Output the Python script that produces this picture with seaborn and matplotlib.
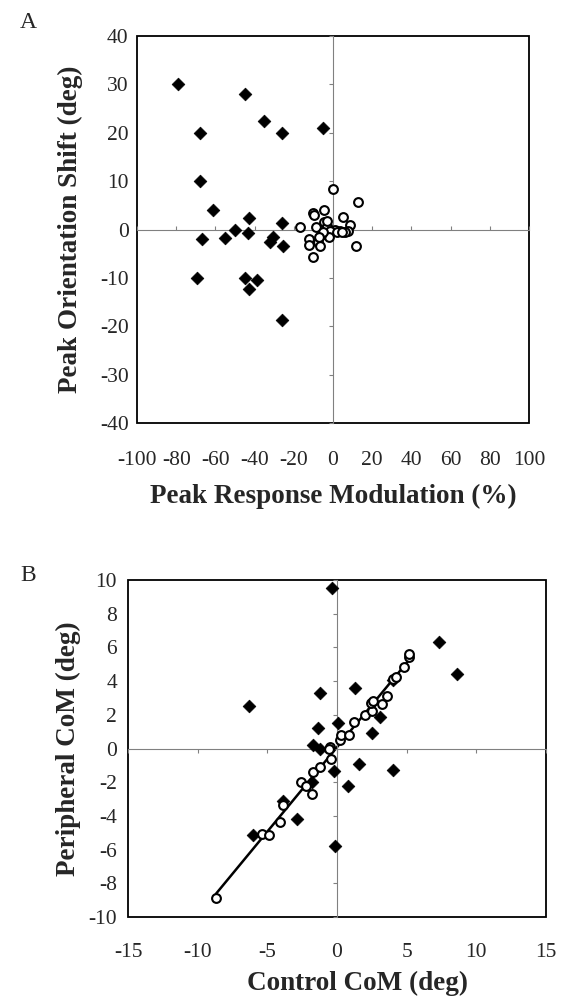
# Two-panel scatter: peak shift vs modulation (A) and peripheral vs control CoM (B)
import matplotlib
matplotlib.use('Agg')
import matplotlib.pyplot as plt
import seaborn as sns
import numpy as np

# Panel A data (filled diamonds / open circles)
a_diam_x = [-79, -45, -68, -35, -26, -5, -68, -61, -43, -26, -67, -55, -50, -43.5,
            -30.5, -32, -25.5, -69.5, -45, -39, -42.7, -26]
a_diam_y = [30, 28, 20, 22.5, 20, 21, 10, 4, 2.4, 1.4, -2, -1.7, 0, -0.8,
            -1.6, -2.6, -3.5, -10, -10, -10.5, -12.2, -18.6]
a_circ_x = [0, 13, -17, -10, -9.5, -4.5, -8.5, -4.5, -3, 5, 8.5, 7.5, 6, 3.5, 1,
            -1.5, -2, -6, -12.5, -12, -7.5, -6.5, -10, 11.5, -5, -7, -3, 2, 4.5]
a_circ_y = [8.3, 5.8, 0.5, 3.5, 3, 4, 0.5, 1.5, 0.8, 2.5, 1, -0.3, -0.6, -0.4, 0,
            -0.2, -1.6, -1.2, -2, -3.2, -2.5, -3.3, -5.7, -3.5, -0.6, -1.6, 1.8, -0.5, -0.5]

# Panel B data
b_diam_x = [-0.36, 7.3, 8.6, 4.0, 1.3, -1.2, -6.3, 3.1, 0.1, -1.4, 2.5, -1.75, -1.2,
            1.55, 4.0, -0.22, -1.8, 0.8, -3.9, -2.9, -6.0, -0.17]
b_diam_y = [9.5, 6.3, 4.4, 4.05, 3.6, 3.3, 2.5, 1.9, 1.5, 1.2, 0.9, 0.2, -0.05,
            -0.9, -1.3, -1.35, -2.0, -2.2, -3.1, -4.2, -5.15, -5.8]
b_circ_x = [-8.7, -5.4, -4.85, -4.1, -3.9, -2.55, -2.2, -1.8, -1.7, -1.2, -0.4, -0.5,
            -0.6, 0.2, 0.3, 0.85, 1.25, 2.0, 2.5, 2.45, 2.6, 3.2, 3.6, 4.0, 4.2,
            4.8, 5.2, 5.2]
b_circ_y = [-8.9, -5.05, -5.15, -4.35, -3.35, -2.0, -2.2, -2.7, -1.4, -1.1, -0.6, 0.1,
            0.0, 0.5, 0.8, 0.8, 1.6, 2.0, 2.2, 2.7, 2.85, 2.65, 3.1, 4.1, 4.25,
            4.85, 5.45, 5.6]

# Axis ticks
a_xticks = [-100, -80, -60, -40, -20, 0, 20, 40, 60, 80, 100]
a_yticks = [-40, -30, -20, -10, 0, 10, 20, 30, 40]
b_xticks = [-15, -10, -5, 0, 5, 10, 15]
b_yticks = [-10, -8, -6, -4, -2, 0, 2, 4, 6, 8, 10]

sns.set_style('white')
plt.rcParams['font.family'] = ['Liberation Serif', 'DejaVu Serif']
plt.rcParams['axes.unicode_minus'] = False

TICK_FS = 15.5
LABEL_FS = 19.5
GRAY = '#808080'
DIAM_S = 42
CIRC_S = 40

fig = plt.figure(figsize=(5.61, 10.02), dpi=100)
axA = fig.add_axes([0.2442, 0.5778, 0.6988, 0.3862])
axB = fig.add_axes([0.2282, 0.0848, 0.7451, 0.3363])


def style_axes(ax, xticks, yticks, xlabel, ylabel, xdir, xpad, ypad, xlp, ylp):
    ax.set_xlim(xticks[0], xticks[-1])
    ax.set_ylim(yticks[0], yticks[-1])
    # frame drawn by the background patch, spines act as zero axes
    ax.patch.set_edgecolor('black')
    ax.patch.set_linewidth(1.3)
    for s in ['top', 'right']:
        ax.spines[s].set_visible(False)
    for s in ['left', 'bottom']:
        ax.spines[s].set_position(('data', 0))
        ax.spines[s].set_color(GRAY)
        ax.spines[s].set_linewidth(0.8)
    ax.set_xticks(xticks)
    ax.set_yticks(yticks)
    ax.tick_params(axis='x', direction=xdir, length=3, width=0.8, color=GRAY,
                   labelbottom=False, bottom=True)
    ax.tick_params(axis='y', direction='out', length=3, width=0.8, color=GRAY,
                   labelleft=False, left=True)

    # tick labels on the frame edges
    sx = ax.secondary_xaxis('bottom')
    sx.set_xticks(xticks)
    sx.set_xticklabels([str(t) for t in xticks])
    sx.tick_params(length=0, pad=xpad, labelsize=TICK_FS)
    sx.spines['bottom'].set_visible(False)
    sx.set_xlabel(xlabel, fontsize=LABEL_FS, fontweight='bold', labelpad=xlp)

    sy = ax.secondary_yaxis('left')
    sy.set_yticks(yticks)
    sy.set_yticklabels([str(t) for t in yticks])
    sy.tick_params(length=0, pad=ypad, labelsize=TICK_FS)
    sy.spines['left'].set_visible(False)
    sy.set_ylabel(ylabel, fontsize=LABEL_FS, fontweight='bold', labelpad=ylp)
    return sx, sy


# Panel A
sns.scatterplot(x=a_diam_x, y=a_diam_y, marker='D', s=DIAM_S, color='black',
                edgecolor='black', linewidth=0.5, ax=axA, zorder=3)
sns.scatterplot(x=a_circ_x, y=a_circ_y, marker='o', s=CIRC_S, color='white',
                edgecolor='black', linewidth=1.5, ax=axA, zorder=4)
style_axes(axA, a_xticks, a_yticks, 'Peak Response Modulation (%)',
           'Peak Orientation Shift (deg)', 'in', 20, 6, 10, 12)

# Panel B
sns.regplot(x=np.array(b_circ_x), y=np.array(b_circ_y), scatter=False, ci=None,
            truncate=True, color='black', line_kws={'lw': 1.8, 'zorder': 2}, ax=axB)
sns.scatterplot(x=b_diam_x, y=b_diam_y, marker='D', s=DIAM_S, color='black',
                edgecolor='black', linewidth=0.5, ax=axB, zorder=3)
sns.scatterplot(x=b_circ_x, y=b_circ_y, marker='o', s=CIRC_S, color='white',
                edgecolor='black', linewidth=1.5, ax=axB, zorder=4)
sxB, syB = style_axes(axB, b_xticks, b_yticks, 'Control CoM (deg)',
                      'Peripheral CoM (deg)', 'out', 19, 8, 6, 5)
sxB.xaxis.set_label_coords(0.55, -0.16, transform=axB.transAxes)

fig.text(0.036, 0.978, 'A', fontsize=17, ha='left', va='center')
fig.text(0.036, 0.426, 'B', fontsize=17, ha='left', va='center')

plt.savefig('out.png', dpi=100)
plt.close()
